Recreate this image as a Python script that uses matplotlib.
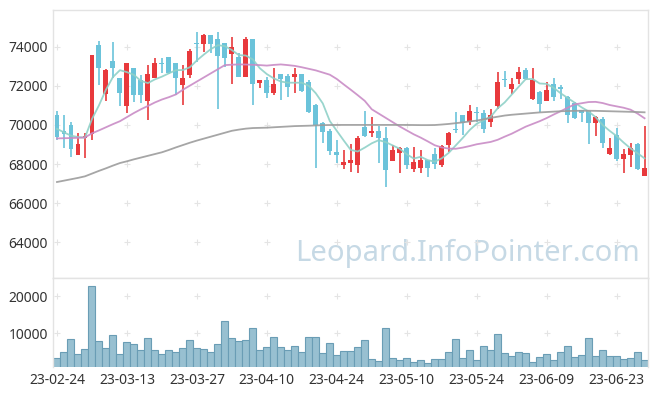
import numpy as np
import matplotlib
matplotlib.use("Agg")
import matplotlib.pyplot as plt

dates = ["23-02-24","23-02-27","23-02-28","23-03-02","23-03-03","23-03-06","23-03-07","23-03-08","23-03-09","23-03-10",
         "23-03-13","23-03-14","23-03-15","23-03-16","23-03-17","23-03-20","23-03-21","23-03-22","23-03-23","23-03-24",
         "23-03-27","23-03-28","23-03-29","23-03-30","23-03-31","23-04-03","23-04-04","23-04-05","23-04-06","23-04-07",
         "23-04-10","23-04-11","23-04-12","23-04-13","23-04-14","23-04-17","23-04-18","23-04-19","23-04-20","23-04-21",
         "23-04-24","23-04-25","23-04-26","23-04-27","23-04-28","23-05-02","23-05-03","23-05-04","23-05-08","23-05-09",
         "23-05-10","23-05-11","23-05-12","23-05-15","23-05-16","23-05-17","23-05-18","23-05-19","23-05-22","23-05-23",
         "23-05-24","23-05-25","23-05-26","23-05-30","23-05-31","23-06-01","23-06-02","23-06-05","23-06-07","23-06-08",
         "23-06-09","23-06-12","23-06-13","23-06-14","23-06-15","23-06-16","23-06-19","23-06-20","23-06-21","23-06-22",
         "23-06-23","23-06-26","23-06-27","23-06-28","23-06-29"]

open_ = [70500,69700,70000,68460,69310,69520,74090,71560,73270,72380,
         70980,72890,72300,71220,72380,73160,73460,73150,72040,72550,
         74180,74140,74600,74380,74170,73630,73460,72470,74380,72160,
         72300,71650,72600,72500,72470,72600,72180,71020,70080,69700,
         68610,67950,68070,67950,69880,69570,69700,69310,68170,68580,
         68840,67730,67780,68200,68510,67950,68970,69780,70510,70170,
         70640,70630,70170,70970,72340,71840,72350,72810,71330,71700,
         71240,72090,71960,71440,71100,70760,70710,70080,70300,68490,
         69480,68260,68460,69020,67390]
high = [70710,70500,70170,69570,69570,73600,74310,72850,74220,72400,
        73180,72900,72550,73060,73440,73400,73480,73180,73060,73880,
        74730,74650,74620,74770,74200,74480,73660,74480,74400,72320,
        72450,72890,72620,72600,72890,72620,72300,71050,70170,69770,
        69230,68720,69010,69430,70710,70420,69940,69880,68970,68890,
        68860,68890,68720,68220,68800,68950,69650,70680,70530,71020,
        70900,70760,70800,72690,72770,72380,72940,72890,72890,71720,
        72180,72380,72050,71460,71190,70780,70730,70470,70420,69310,
        69860,68770,69090,69050,69960]
low = [69230,68800,68380,68440,68290,69230,72040,71220,72380,70980,
       70590,71190,71100,70250,72380,72640,72600,71530,71020,72380,
       73230,73750,73700,70810,72980,72080,72450,72450,71020,71870,
       71360,71530,71270,71440,71650,71700,70600,67780,69090,68460,
       68030,67730,67610,67520,69400,69400,68070,66810,68150,67520,
       67730,67610,67520,67320,67730,67860,68630,69570,69480,70000,
       70170,69570,69880,70800,71960,71580,72090,72300,71300,70680,
       71220,71240,71310,70080,70300,70170,69010,69430,68800,68470,
       68170,67520,67860,67690,67380]
close = [69400,69530,68770,69020,69430,73580,72930,72810,72930,71650,
         73150,71530,71530,72590,73150,73140,72670,72380,72420,73780,
         74160,74600,74140,73540,73440,73970,72470,74380,72080,72300,
         71650,72090,72350,71960,72600,71750,70680,70000,69650,68680,
         68460,68100,68200,69350,69430,69700,69310,67690,68720,68840,
         67950,68090,68200,67780,68000,68920,69570,69760,70080,70710,
         70620,69770,70510,72210,72320,72090,72690,72330,72300,71070,
         71790,71440,71860,70510,70340,70590,70080,70420,69090,68800,
         68240,68490,68800,67740,67810]

ma5 = [69800,69620,69450,69380,69350,70300,71000,71800,72450,72800,
       72700,72560,72250,72140,72330,72470,72640,72800,72810,72950,
       73300,73600,73880,74080,74030,73830,73570,73550,73350,72900,
       72600,72380,72220,72160,72160,72160,72000,71620,71100,70200,
       69700,69200,68720,68640,68840,69060,69220,69120,68950,68780,
       68500,68280,68370,68200,68120,68290,68570,68950,69330,69740,
       70060,70240,70420,70850,71150,71550,71950,72340,72350,72120,
       72100,71900,71620,71380,71140,70900,70690,70400,70000,69700,
       69430,69100,68800,68550,68290]
ma20 = [69310,69320,69330,69340,69360,69570,69720,69880,70040,70190,
        70400,70610,70800,70970,71150,71300,71420,71560,71800,72010,
        72220,72430,72640,72850,73060,73080,73095,73090,73075,73060,
        73035,73070,73095,73060,73020,72950,72870,72790,72680,72570,
        72350,72070,71800,71520,71230,70800,70580,70360,70140,69920,
        69720,69520,69350,69160,68960,68850,68790,68780,68840,68920,
        69010,69070,69130,69240,69400,69550,69730,69910,70050,70190,
        70350,70530,70700,70880,71050,71110,71170,71180,71120,71020,
        70950,70880,70780,70580,70340]
ma60 = [67080,67150,67220,67290,67370,67510,67650,67780,67920,68050,
        68140,68240,68330,68420,68510,68600,68720,68850,68970,69090,
        69200,69300,69400,69500,69600,69700,69760,69810,69840,69850,
        69860,69880,69900,69920,69940,69950,69960,69975,69990,69995,
        70000,70000,70000,70000,70000,70000,70000,70000,70000,70000,
        70000,69995,69990,69990,69995,70020,70050,70090,70130,70180,
        70220,70290,70360,70420,70480,70520,70550,70580,70610,70640,
        70660,70680,70700,70710,70720,70725,70725,70720,70710,70700,
        70690,70680,70670,70660,70645]

volume = [3300,5000,8390,4370,5710,22680,7950,5980,9460,4370,
          7590,7050,5450,8660,5450,4370,5450,5000,5980,8130,
          5980,5710,5000,7050,13220,8660,7860,8130,11340,5450,
          6250,8930,6250,5450,6520,4910,8930,8930,4640,7320,
          4110,5180,5180,6250,8130,3040,2590,11340,3300,2770,
          3300,2230,2770,1960,3040,3040,4910,8390,3300,5450,
          2770,6520,5450,9730,4640,3840,4910,4640,2230,3570,
          4370,2770,4910,6520,3570,4110,8660,3840,5450,3840,
          3840,3040,3300,4910,2770]

up_color = "#e8393c"
down_color = "#6bc3da"
frame_color = "#e3e3e3"
text_color = "#333333"

plt.rcParams["font.family"] = ["Noto Sans", "DejaVu Sans"]

fig = plt.figure(figsize=(6.57, 3.96), dpi=100)
ax = fig.add_axes([0.0814, 0.298, 0.905, 0.6768])
axv = fig.add_axes([0.0814, 0.0732, 0.905, 0.2248], sharex=ax)

x = np.arange(len(dates))
o = np.array(open_)
c = np.array(close)
up = c >= o
cols = [up_color if u else down_color for u in up]

# wicks then bodies
ax.vlines(x, low, high, colors=cols, linewidth=1.2, zorder=2)
body_h = np.maximum(np.abs(c - o), 45)
ax.bar(x, body_h, bottom=np.minimum(o, c), width=0.7, color=cols, linewidth=0, zorder=3)

ax.plot(x, ma5, color="#8fd1c8", linewidth=1.3, alpha=0.9, zorder=4)
ax.plot(x, ma20, color="#c98cc6", linewidth=1.3, alpha=0.9, zorder=4)
ax.plot(x, ma60, color="#9c9c9c", linewidth=1.3, alpha=0.9, zorder=4)

axv.bar(x, volume, width=1.0, color="#98c0d1", edgecolor="#6a9db5", linewidth=0.8, zorder=2)

xt = list(range(0, len(dates), 10))
price_ticks = [64000, 66000, 68000, 70000, 72000, 74000]
vol_ticks = [10000, 20000]

ax.set_xlim(-0.5, len(dates) - 0.5)
ax.set_ylim(62170, 75880)
axv.set_ylim(970, 24830)

# grid drawn as small plus marks
gx, gy = np.meshgrid(xt, price_ticks)
ax.plot(gx.ravel(), gy.ravel(), "+", color="#e4e4e4", markersize=5, markeredgewidth=0.8, zorder=1)
gx, gy = np.meshgrid(xt, vol_ticks)
axv.plot(gx.ravel(), gy.ravel(), "+", color="#e4e4e4", markersize=5, markeredgewidth=0.8, zorder=1)

ax.set_yticks(price_ticks)
ax.set_yticklabels([str(t) for t in price_ticks])
axv.set_yticks(vol_ticks)
axv.set_yticklabels([str(t) for t in vol_ticks])
axv.set_xticks(xt)
axv.set_xticklabels([dates[i] for i in xt])
plt.setp(ax.get_xticklabels(), visible=False)

for a in (ax, axv):
    a.tick_params(length=0, labelsize=10, colors=text_color, pad=4)
    for s in a.spines.values():
        s.set_color(frame_color)
        s.set_linewidth(1)
axv.spines["bottom"].set_visible(False)

ax.text(0.696, 0.09, "Leopard.InfoPointer.com", transform=ax.transAxes,
        ha="center", va="center", fontsize=21, color="#c6d9e5", zorder=0)

fig.savefig("out.png", dpi=100)
